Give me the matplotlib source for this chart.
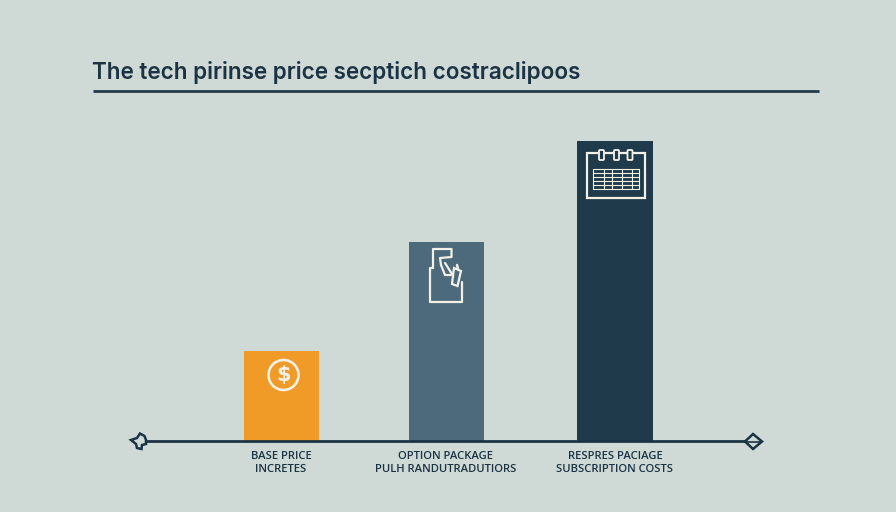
import matplotlib
matplotlib.use("Agg")
import matplotlib.pyplot as plt
from matplotlib.patches import Circle, FancyBboxPatch, Polygon, Rectangle

# data
title = "The tech pirinse price secptich costraclipoos"
categories = ["BASE PRICE\nINCRETES",
              "OPTION PACKAGE\nPULH RANDUTRADUTIORS",
              "RESPRES PACIAGE\nSUBSCRIPTION COSTS"]
values = [90, 199, 300]

# layout, in pixels of the 896x512 picture
BASE_Y = 441
bar_left = [244, 408.5, 577]
bar_width = [75, 75.5, 76]
bar_colors = ["#f09a27", "#4c6a7b", "#1f3a4b"]
BG = "#cfdad6"
INK = "#1c3343"
ICON = "#f3f1e6"


def py(y):
    # pixel row -> value above the baseline
    return BASE_Y - y


def line(ax, xs, ys, lw=1.6, color=ICON):
    ax.plot(xs, [py(y) for y in ys], color=color, lw=lw, zorder=4,
            solid_capstyle="round", solid_joinstyle="round")


fig = plt.figure(figsize=(8.96, 5.12), dpi=100, facecolor=BG)
ax = fig.add_axes([0, 0, 1, 1])
ax.set_xlim(0, 896)
ax.set_ylim(py(512), py(0))
ax.axis("off")

ax.bar(bar_left, values, width=bar_width, align="edge", color=bar_colors, zorder=2)

# title and rule
ax.text(92, py(79.5), title, fontsize=16.2, family="Inter", weight="semibold",
        color=INK, ha="left", va="baseline")
ax.plot([92.5, 819], [py(91), py(91)], color="#223a4c", lw=2, zorder=3,
        solid_capstyle="butt")

# baseline and its two end markers
ax.plot([145, 745], [0, 0], color=INK, lw=2, zorder=3)
left_mark = [(131, 440), (137, 438), (140, 433.5), (144.5, 436), (146, 440),
             (146, 444), (142, 445), (141.5, 449), (137, 448), (136, 444)]
ax.add_patch(Polygon([(x, py(y)) for x, y in left_mark], closed=True,
                     fc=BG, ec=INK, lw=1.8, zorder=4))
right_mark = [(745, 441.5), (753, 434), (762, 441.5), (753, 449)]
ax.add_patch(Polygon([(x, py(y)) for x, y in right_mark], closed=True,
                     fc=BG, ec=INK, lw=1.8, zorder=4))
line(ax, [747, 760], [441.5, 441.5], lw=1.2, color=INK)

# category labels
label_x = [281, 446, 615]
for x, cat in zip(label_x, categories):
    ax.text(x, py(463), cat, fontsize=8.1, family="Open Sans", weight="semibold",
            color=INK, ha="center", va="center", linespacing=1.3)

# coin icon
ax.add_patch(Circle((283.5, py(375)), 15, fc="none", ec=ICON, lw=1.9, zorder=4))
ax.text(283.5, py(375.5), "$", fontsize=15, color=ICON, ha="center", va="center",
        family="DejaVu Sans", weight="bold", zorder=4)

# package icon
line(ax, [433, 429.5, 429.5, 461.5, 461.5], [268, 268, 302, 302, 282])
line(ax, [433, 433, 451.5, 451.5, 440, 441, 445, 451],
     [268, 249, 249, 257, 258, 265, 275, 275])
line(ax, [445, 452], [263, 274])
bottle = [(454, 268), (461, 271), (457.5, 286), (452, 284)]
ax.add_patch(Polygon([(x, py(y)) for x, y in bottle], closed=True,
                     fc="#4c6a7b", ec=ICON, lw=1.6, zorder=5))
line(ax, [457, 458], [265, 269], lw=1.8)

# calendar icon
ax.add_patch(Rectangle((586.5, py(198)), 58.5, 45, fc="none", ec=ICON, lw=1.6, zorder=4))
for rx in [601.5, 616.5, 630]:
    ax.add_patch(FancyBboxPatch((rx - 1.5, py(159)), 3, 8, boxstyle="round,pad=1",
                                fc="#1f3a4b", ec=ICON, lw=1.3, zorder=5))
for gy in [169, 173, 177, 181, 185, 189]:
    line(ax, [593, 639], [gy, gy], lw=0.8)
for gx in [593, 604, 612, 622, 632, 639]:
    line(ax, [gx, gx], [169, 189], lw=0.8)

fig.savefig("out.png", dpi=100, facecolor=BG)
